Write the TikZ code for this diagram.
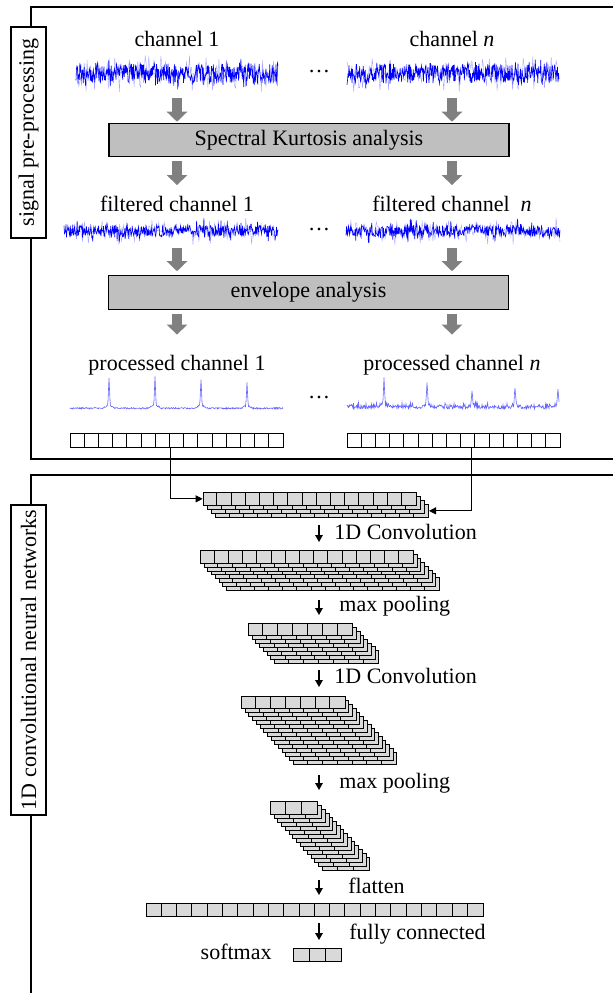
\documentclass[tikz,border=0pt]{standalone}
\usepackage{fontspec}
\setmainfont{Liberation Serif}
\usetikzlibrary{arrows.meta,positioning,calc}

% one row of cells: name, x, y, cells, cell width, cell height, fill
\newcommand{\cellrow}[7]{%
  \node[rowbox, fill=#7, minimum width=#4*#5*0.5pt, minimum height=#6*0.5pt] (#1) at (#2,#3) {};
  \pgfmathtruncatemacro{\lastk}{#4-1}
  \foreach \k in {1,...,\lastk} {\draw[cellsep] (#2+\k*#5,#3) -- ++(0,#6);}
}
% stack of feature maps: name, x, y, cells, cell width, cell height, layers, dx, dy
\newcommand{\fmapstack}[9]{%
  \pgfmathtruncatemacro{\lastl}{#7-1}
  \foreach \l in {\lastl,...,0} {\cellrow{#1-\l}{#2+\l*#8}{#3+\l*#9}{#4}{#5}{#6}{gray!30}}
}

\begin{document}
\begin{tikzpicture}[x=0.5pt, y=-0.5pt,
  txt/.style={font=\fontsize{11}{13}\selectfont, inner sep=1pt, text height=8pt, text depth=2pt},
  procbox/.style={rectangle, draw, fill=gray!50, line width=0.6pt, minimum width=200pt, minimum height=16pt, font=\fontsize{11}{13}\selectfont},
  sidebox/.style={rectangle, draw, fill=white, line width=0.6pt, rotate=90, minimum height=17.5pt, inner sep=0pt, font=\fontsize{11}{13}\selectfont},
  frame/.style={line width=0.7pt},
  wavebox/.style={rectangle, inner sep=0pt},
  rowbox/.style={rectangle, draw, line width=0.5pt, inner sep=0pt, anchor=north west},
  cellsep/.style={line width=0.5pt},
  bigarr/.style={line width=5pt, gray, -{Triangle[length=5pt, width=10pt]}},
  linkarr/.style={line width=0.5pt, -{Triangle[length=3.5pt, width=3.5pt]}},
  steparr/.style={line width=0.7pt, -{Triangle[length=3.5pt, width=3.8pt]}},
  rawfuzz/.style={blue!35, line width=0.2pt},
  rawwave/.style={blue, line width=0.3pt},
  envwave/.style={blue!60, line width=0.3pt},
  declare function={spk(\t,\c,\h)=\h*(max(0,1-abs(\t-\c)/1.2)+0.15*max(0,1-abs(\t-\c)/6));}
]
\useasboundingbox (0,0) rectangle (613,993);

% Frames and side labels
\draw[frame] (613,7) -- (31,7) -- (31,459) -- (613,459);
\draw[frame] (613,475) -- (31,475) -- (31,993);
\node[sidebox, minimum width=105.5pt] (pre) at (28.5,132.5) {signal pre-processing};
\node[sidebox, minimum width=155pt] (cnn) at (28.5,660) {1D convolutional neural networks};

% Raw channels
\node[txt] (ch1) at (177,40) {channel 1};
\node[txt] (chn) at (452,40) {channel \textit{n}};
\node[wavebox, minimum width=101pt, minimum height=23pt] (sig1) at (177,73) {};
\node[wavebox, minimum width=106pt, minimum height=23pt] (sign) at (453,73) {};
\node[txt] (dots1) at (319,66) {\dots};
\pgfmathsetseed{42}
\draw[rawfuzz] plot[domain=76:278, samples=220] (\x,{73.5+19*pow(rand,3)});
\draw[rawwave] plot[domain=76:278, samples=420] (\x,{73.5+10*rand+6*pow(rand,5)});
\draw[rawfuzz] plot[domain=347:559, samples=220] (\x,{73.5+19*pow(rand,3)});
\draw[rawwave] plot[domain=347:559, samples=420] (\x,{73.5+10*rand+6*pow(rand,5)});

% Spectral Kurtosis
\node[procbox] (sk) at (309,140) {Spectral Kurtosis analysis};
\draw[bigarr, shorten <=1pt, shorten >=0.5pt] (sig1.south -| ch1) -- (sk.north -| ch1);
\draw[bigarr, shorten <=1pt, shorten >=0.5pt] (sign.south -| chn) -- (sk.north -| chn);

% Filtered channels
\node[txt] (fc1) at (177,205.5) {filtered channel 1};
\node[txt] (fcn) at (452,205.5) {filtered channel\enspace\textit{n}};
\draw[bigarr, shorten <=2pt, shorten >=4pt] (sk.south -| fc1) -- (fc1.north);
\draw[bigarr, shorten <=2pt, shorten >=4pt] (sk.south -| chn) -- (fcn.north -| chn);
\node[wavebox, minimum width=107pt, minimum height=15pt] (fil1) at (171,233) {};
\node[wavebox, minimum width=107pt, minimum height=15pt] (filn) at (453,233) {};
\node[txt] (dots2) at (319,224) {\dots};
\draw[rawfuzz] plot[domain=64:278, samples=220] (\x,{231+14*pow(rand,5)});
\draw[rawwave] plot[domain=64:278, samples=440] (\x,{231+5.5*rand+9*pow(rand,7)});
\draw[rawfuzz] plot[domain=346:560, samples=220] (\x,{231+14*pow(rand,5)});
\draw[rawwave] plot[domain=346:560, samples=440] (\x,{231+5.5*rand+9*pow(rand,7)});

% Envelope
\node[procbox] (env) at (308.5,292.5) {envelope analysis};
\draw[bigarr, shorten >=2pt] (fil1.south -| fc1) -- (env.north -| fc1);
\draw[bigarr, shorten >=2pt] (filn.south -| chn) -- (env.north -| chn);

% Processed channels
\node[txt] (pc1) at (177,364) {processed channel 1};
\node[txt] (pcn) at (452,364) {processed channel \textit{n}};
\draw[bigarr, shorten <=2pt, shorten >=8.5pt] (env.south -| pc1) -- (pc1.north);
\draw[bigarr, shorten <=2pt, shorten >=8.5pt] (env.south -| chn) -- (pcn.north -| chn);
\node[wavebox, minimum width=106.5pt, minimum height=15pt] (pro1) at (176.5,396) {};
\node[wavebox, minimum width=106pt, minimum height=15pt] (pron) at (453,396) {};
\node[txt] (dots3) at (319,392) {\dots};
\draw[envwave] plot[domain=70:283, samples=427]
  (\x,{409-1.5*abs(rand)-spk(\x,109,26)-spk(\x,155,27)-spk(\x,201,25)-spk(\x,247,22)});
\draw[envwave] plot[domain=347:559, samples=425]
  (\x,{409-3*abs(rand)-4*pow(abs(rand),4)-spk(\x,384,26)-spk(\x,427,20)-spk(\x,472,15)-spk(\x,515,17)-spk(\x,558,16)});

% Input vectors
\cellrow{row1}{70}{433}{15}{14.2}{14}{white}
\cellrow{rown}{347}{433}{15}{14.2}{14}{white}

% CNN
\fmapstack{s1}{202.7}{492}{15}{14.2}{12.7}{4}{4.1}{4}
\draw[linkarr] ([xshift=-3.5pt]row1.south) |- (s1-0.west);
\draw[linkarr] ([xshift=8.5pt]rown.south) |- (s1-3.east);

\coordinate (c1a) at (319,525); \coordinate (c1b) at (319,542);
\draw[steparr] (c1a) -- (c1b);
\node[txt, anchor=west] (conv1) at (332,533) {1D Convolution};
\fmapstack{s2}{200}{550}{15}{14.2}{12.7}{8}{3.7}{3.9}

\coordinate (p1a) at (319,600); \coordinate (p1b) at (319,615);
\draw[steparr] (p1a) -- (p1b);
\node[txt, anchor=west] (pool1) at (337,605) {max pooling};
\fmapstack{s3}{248}{623}{7}{14.9}{12.3}{8}{3.7}{3.9}

\coordinate (c2a) at (319,670); \coordinate (c2b) at (319,687);
\draw[steparr] (c2a) -- (c2b);
\node[txt, anchor=west] (conv2) at (332,677) {1D Convolution};
\fmapstack{s4}{241}{696}{7}{14.8}{12.3}{15}{3.7}{4}

\coordinate (p2a) at (319,775); \coordinate (p2b) at (319,790);
\draw[steparr] (p2a) -- (p2b);
\node[txt, anchor=west] (pool2) at (337,782) {max pooling};
\fmapstack{s5}{270}{801}{3}{15.8}{12.7}{15}{3.7}{4}

\coordinate (fla) at (319,880); \coordinate (flb) at (319,895);
\draw[steparr] (fla) -- (flb);
\node[txt, anchor=west] (flt) at (346,887) {flatten};
\cellrow{flat}{146}{903}{22}{15.3}{12.5}{gray!30}

\coordinate (fca) at (319,923); \coordinate (fcb) at (319,940);
\draw[steparr] (fca) -- (fcb);
\node[txt, anchor=west] (fcon) at (347,933) {fully connected};
\cellrow{soft}{293}{948}{3}{16}{12.5}{gray!30}
\node[txt, anchor=east] (smx) at (274,953) {softmax};

\end{tikzpicture}
\end{document}
